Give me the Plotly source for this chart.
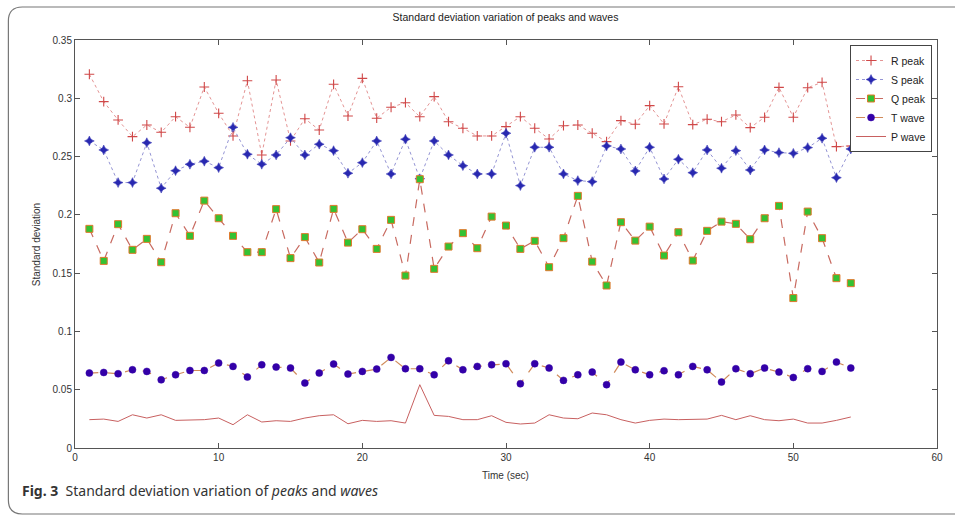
import plotly.graph_objects as go

time_sec = list(range(1, 55))

r_peak = [0.3206, 0.2971, 0.2814, 0.2671, 0.2771, 0.2708, 0.2842, 0.2751, 0.3097, 0.2871,
          0.2677, 0.3151, 0.2514, 0.3157, 0.2634, 0.2825, 0.2728, 0.3120, 0.2848, 0.3171,
          0.2829, 0.2923, 0.2962, 0.2842, 0.3014, 0.2799, 0.2743, 0.2677, 0.2677, 0.2757,
          0.2842, 0.2743, 0.2651, 0.2765, 0.2771, 0.2700, 0.2628, 0.2808, 0.2777, 0.2937,
          0.2780, 0.3099, 0.2774, 0.2820, 0.2799, 0.2857, 0.2748, 0.2837, 0.3094, 0.2837,
          0.3091, 0.3137, 0.2585, 0.2591]

s_peak = [0.2634, 0.2557, 0.2277, 0.2277, 0.2619, 0.2229, 0.2379, 0.2434, 0.2460, 0.2405,
          0.2751, 0.2520, 0.2434, 0.2514, 0.2662, 0.2514, 0.2606, 0.2551, 0.2357, 0.2448,
          0.2634, 0.2351, 0.2649, 0.2310, 0.2634, 0.2514, 0.2422, 0.2351, 0.2351, 0.2700,
          0.2251, 0.2580, 0.2580, 0.2351, 0.2294, 0.2285, 0.2591, 0.2565, 0.2377, 0.2580,
          0.2308, 0.2477, 0.2362, 0.2557, 0.2400, 0.2551, 0.2385, 0.2557, 0.2534, 0.2528,
          0.2577, 0.2657, 0.2319, 0.2565]

q_peak = [0.1880, 0.1605, 0.1920, 0.1700, 0.1794, 0.1594, 0.2014, 0.1820, 0.2122, 0.1971,
          0.1820, 0.1680, 0.1680, 0.2049, 0.1629, 0.1809, 0.1591, 0.2051, 0.1762, 0.1877,
          0.1708, 0.1957, 0.1479, 0.2306, 0.1537, 0.1728, 0.1843, 0.1714, 0.1985, 0.1908,
          0.1708, 0.1777, 0.1551, 0.1800, 0.2163, 0.1599, 0.1394, 0.1937, 0.1779, 0.1899,
          0.1651, 0.1851, 0.1608, 0.1863, 0.1942, 0.1923, 0.1791, 0.1971, 0.2077, 0.1286,
          0.2028, 0.1800, 0.1457, 0.1414]

t_wave = [0.0643, 0.0648, 0.0637, 0.0671, 0.0657, 0.0585, 0.0628, 0.0665, 0.0665, 0.0729,
          0.0700, 0.0609, 0.0714, 0.0694, 0.0686, 0.0557, 0.0643, 0.0720, 0.0634, 0.0657,
          0.0677, 0.0777, 0.0680, 0.0680, 0.0628, 0.0748, 0.0671, 0.0700, 0.0714, 0.0723,
          0.0551, 0.0723, 0.0686, 0.0580, 0.0628, 0.0651, 0.0543, 0.0737, 0.0671, 0.0628,
          0.0663, 0.0628, 0.0700, 0.0671, 0.0566, 0.0680, 0.0637, 0.0686, 0.0651, 0.0605,
          0.0680, 0.0657, 0.0737, 0.0686]

p_wave = [0.0243, 0.0248, 0.0228, 0.0285, 0.0257, 0.0285, 0.0237, 0.0237, 0.0243, 0.0257,
          0.0200, 0.0285, 0.0223, 0.0234, 0.0228, 0.0257, 0.0277, 0.0285, 0.0208, 0.0237,
          0.0228, 0.0234, 0.0214, 0.0543, 0.0280, 0.0271, 0.0243, 0.0243, 0.0277, 0.0220,
          0.0206, 0.0214, 0.0285, 0.0257, 0.0251, 0.0300, 0.0285, 0.0243, 0.0214, 0.0237,
          0.0248, 0.0243, 0.0243, 0.0248, 0.0280, 0.0243, 0.0277, 0.0243, 0.0234, 0.0248,
          0.0214, 0.0214, 0.0237, 0.0266]

x_ticks = [0, 10, 20, 30, 40, 50, 60]
y_ticks = [0, 0.05, 0.1, 0.15, 0.2, 0.25, 0.3, 0.35]
y_tick_text = ["0", "0.05", "0.1", "0.15", "0.2", "0.25", "0.3", "0.35"]

FONT = "Liberation Sans Narrow, Liberation Sans, Arial, sans-serif"

fig = go.Figure()
fig.add_trace(go.Scatter(x=time_sec, y=r_peak, name="R peak", mode="lines+markers",
                         line=dict(color="#e49494", width=1, dash="dot"),
                         marker=dict(symbol="cross-thin", size=7, color="#d04848",
                                     line=dict(color="#d04848", width=1.1))))
fig.add_trace(go.Scatter(x=time_sec, y=s_peak, name="S peak", mode="lines+markers",
                         line=dict(color="#9494d4", width=1, dash="dot"),
                         marker=dict(symbol="star-diamond", size=7, color="#2828b0",
                                     line=dict(color="#2828b0", width=0.5))))
fig.add_trace(go.Scatter(x=time_sec, y=q_peak, name="Q peak", mode="lines+markers",
                         line=dict(color="#c86a60", width=1.2, dash="dash"),
                         marker=dict(symbol="square", size=7, color="#33c233",
                                     line=dict(color="#e0782c", width=1))))
fig.add_trace(go.Scatter(x=time_sec, y=t_wave, name="T wave", mode="lines+markers",
                         line=dict(color="#d08a5a", width=1.2, dash="dash"),
                         marker=dict(symbol="circle", size=7, color="#3300a8",
                                     line=dict(color="#3300a8", width=0.5))))
fig.add_trace(go.Scatter(x=time_sec, y=p_wave, name="P wave", mode="lines",
                         line=dict(color="#c86060", width=1)))

axis_common = dict(showgrid=False, zeroline=False, showline=True, linecolor="#555555",
                   linewidth=1, mirror="ticks", ticks="inside", ticklen=5,
                   tickcolor="#555555", tickfont=dict(family=FONT, size=10, color="#333333"))

fig.update_xaxes(range=[0, 60], tickvals=x_ticks, **axis_common)
fig.update_yaxes(range=[0, 0.35], tickvals=y_ticks, ticktext=y_tick_text, **axis_common)

L, R, T, B = 75, 13, 40, 74
W, H = 955, 522
pw, ph = W - L - R, H - T - B


def px(X):
    return (X - L) / pw


def py(Y):
    return (H - B - Y) / ph


# rounded frame
x0, x1, y0, y1 = px(8), px(970), py(7), py(514)
rx, ry = 14 / pw, 14 / ph
path = (f"M {x0+rx},{y0} L {x1},{y0} L {x1},{y1} L {x0+rx},{y1} "
        f"Q {x0},{y1} {x0},{y1+ry} L {x0},{y0-ry} Q {x0},{y0} {x0+rx},{y0} Z")

fig.update_layout(
    width=W, height=H,
    margin=dict(l=L, r=R, t=T, b=B, pad=0),
    paper_bgcolor="white", plot_bgcolor="white",
    font=dict(family=FONT, size=10, color="#333333"),
    title=dict(text="Standard deviation variation of peaks and waves",
               x=px(508), xref="paper", y=1 - 17 / H, yref="container",
               xanchor="center", yanchor="middle",
               font=dict(family=FONT, size=10.5, color="#222222")),
    legend=dict(x=px(937), y=py(45), xanchor="right", yanchor="top",
                bgcolor="white", bordercolor="#444444", borderwidth=1,
                font=dict(family=FONT, size=10.5, color="#222222"),
                itemwidth=30, tracegroupgap=0),
    shapes=[dict(type="path", path=path, xref="paper", yref="paper",
                 line=dict(color="#777777", width=1.2), fillcolor="rgba(0,0,0,0)")],
    annotations=[
        dict(text="Time (sec)", x=px(508), y=py(475), xref="paper", yref="paper",
             showarrow=False, xanchor="center", yanchor="middle",
             font=dict(family=FONT, size=10, color="#333333")),
        dict(text="Standard deviation", x=px(36), y=py(245), xref="paper", yref="paper",
             showarrow=False, textangle=-90, xanchor="center", yanchor="middle",
             font=dict(family=FONT, size=10, color="#333333")),
        dict(text="<b>Fig. 3</b>  Standard deviation variation of <i>peaks</i> and <i>waves</i>",
             x=px(20), y=py(490), xref="paper", yref="paper", showarrow=False,
             xanchor="left", yanchor="middle",
             font=dict(family="Noto Sans, Open Sans, sans-serif", size=14, color="#333333")),
    ],
)

fig.write_html("out.html")
